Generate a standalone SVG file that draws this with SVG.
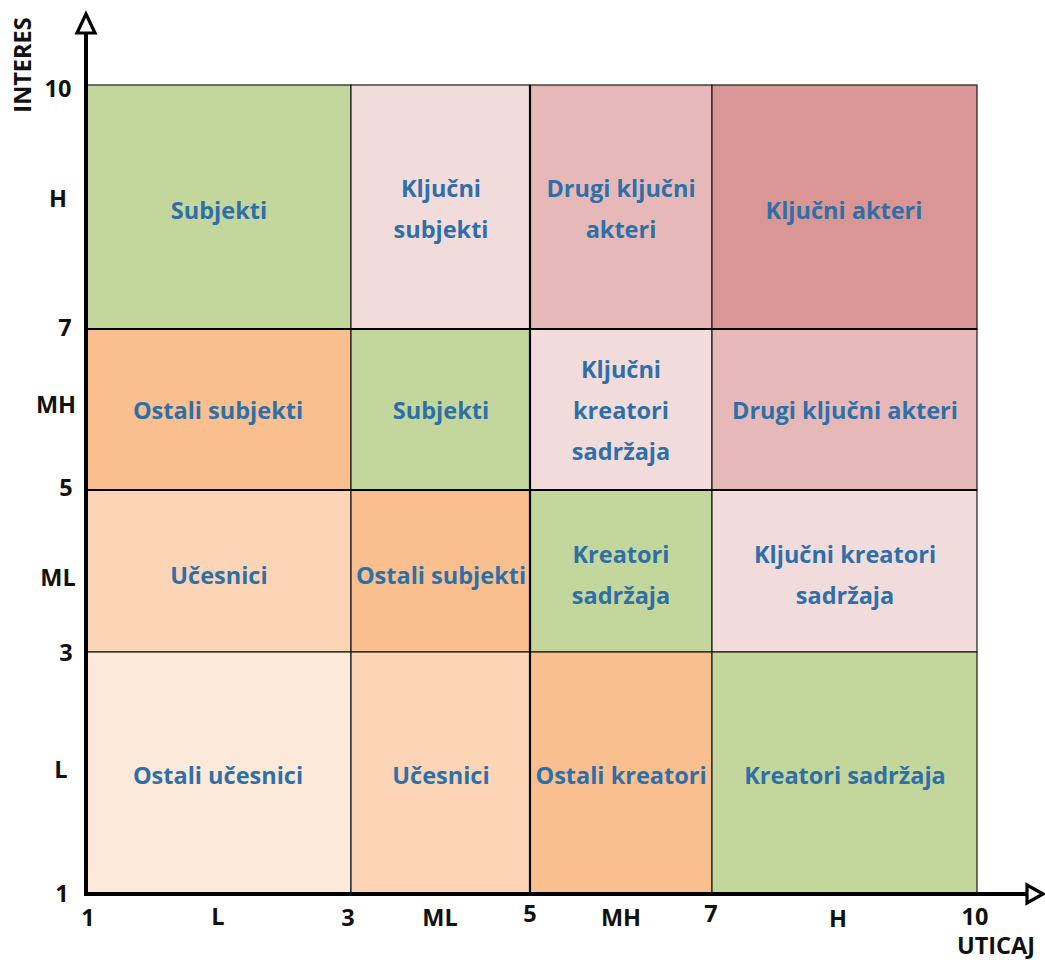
<svg xmlns="http://www.w3.org/2000/svg" width="1045" height="960" viewBox="0 0 1045 960">
<style>
.cell{stroke:#1a1a1a;stroke-width:1.2}
.g{fill:#c3d69b}.p1{fill:#f2dcdb}.p2{fill:#e6b9b8}.p3{fill:#d99694}
.o1{fill:#f9bf8f}.o2{fill:#fbd5b5}.o3{fill:#fde9d9}
.t{font-family:"Open Sans","Noto Sans",sans-serif;font-weight:700;font-size:23.5px;fill:#2e6fa8;text-anchor:middle}
.a{font-family:"Open Sans","Noto Sans",sans-serif;font-weight:700;font-size:23.5px;fill:#111;text-anchor:middle}
.ax{stroke:#000;stroke-width:4;fill:none}
.ah{stroke:#000;stroke-width:3.2;fill:#fff;stroke-linejoin:miter}
</style>
<rect width="1045" height="960" fill="#fff"/>
<g id="row1">
<g id="c11"><rect class="cell g" x="87" y="85" width="264" height="244"/><text class="t" x="219" y="219">Subjekti</text></g>
<g id="c12"><rect class="cell p1" x="351" y="85" width="179" height="244"/><text class="t" x="441" y="197">Ključni</text><text class="t" x="441" y="238">subjekti</text></g>
<g id="c13"><rect class="cell p2" x="530" y="85" width="182" height="244"/><text class="t" x="621" y="197">Drugi ključni</text><text class="t" x="621" y="238">akteri</text></g>
<g id="c14"><rect class="cell p3" x="712" y="85" width="265" height="244"/><text class="t" x="844" y="219">Ključni akteri</text></g>
</g>
<g id="row2">
<g id="c21"><rect class="cell o1" x="87" y="329" width="264" height="161"/><text class="t" x="218" y="419">Ostali subjekti</text></g>
<g id="c22"><rect class="cell g" x="351" y="329" width="179" height="161"/><text class="t" x="441" y="419">Subjekti</text></g>
<g id="c23"><rect class="cell p1" x="530" y="329" width="182" height="161"/><text class="t" x="621" y="378">Ključni</text><text class="t" x="621" y="419">kreatori</text><text class="t" x="621" y="460">sadržaja</text></g>
<g id="c24"><rect class="cell p2" x="712" y="329" width="265" height="161"/><text class="t" x="845" y="419">Drugi ključni akteri</text></g>
</g>
<g id="row3">
<g id="c31"><rect class="cell o2" x="87" y="490" width="264" height="162"/><text class="t" x="219" y="584">Učesnici</text></g>
<g id="c32"><rect class="cell o1" x="351" y="490" width="179" height="162"/><text class="t" x="441" y="584">Ostali subjekti</text></g>
<g id="c33"><rect class="cell g" x="530" y="490" width="182" height="162"/><text class="t" x="621" y="563">Kreatori</text><text class="t" x="621" y="604">sadržaja</text></g>
<g id="c34"><rect class="cell p1" x="712" y="490" width="265" height="162"/><text class="t" x="845" y="563">Ključni kreatori</text><text class="t" x="845" y="604">sadržaja</text></g>
</g>
<g id="row4">
<g id="c41"><rect class="cell o3" x="87" y="652" width="264" height="241"/><text class="t" x="218" y="784">Ostali učesnici</text></g>
<g id="c42"><rect class="cell o2" x="351" y="652" width="179" height="241"/><text class="t" x="441" y="784">Učesnici</text></g>
<g id="c43"><rect class="cell o1" x="530" y="652" width="182" height="241"/><text class="t" x="621" y="784">Ostali kreatori</text></g>
<g id="c44"><rect class="cell g" x="712" y="652" width="265" height="241"/><text class="t" x="845" y="784">Kreatori sadržaja</text></g>
</g>
<g id="gridlines" stroke="#000" stroke-width="2.2">
<line x1="87" y1="329" x2="977" y2="329"/>
<line x1="87" y1="490" x2="977" y2="490"/>
<line x1="530" y1="85" x2="530" y2="893"/>
</g>
<g id="axes">
<path class="ax" d="M86 896 V32"/>
<path class="ax" d="M84 894 H1029"/>
<path class="ah" d="M86 14 L77 33 L95 33 Z"/>
<path class="ah" d="M1043 894 L1027 885 L1027 903 Z"/>
</g>
<g id="ylabels">
<text class="a" x="58" y="97">10</text>
<text class="a" x="58" y="207">H</text>
<text class="a" x="65" y="336">7</text>
<text class="a" x="56" y="413">MH</text>
<text class="a" x="66" y="496">5</text>
<text class="a" x="58" y="586">ML</text>
<text class="a" x="66" y="661">3</text>
<text class="a" x="61" y="778">L</text>
<text class="a" x="62" y="902">1</text>
<text class="a" transform="translate(31 65) rotate(-90)" x="0" y="0" font-size="25">INTERES</text>
</g>
<g id="xlabels">
<text class="a" x="88" y="926">1</text>
<text class="a" x="218" y="925">L</text>
<text class="a" x="348" y="926">3</text>
<text class="a" x="440" y="926">ML</text>
<text class="a" x="530" y="922">5</text>
<text class="a" x="621" y="926">MH</text>
<text class="a" x="711" y="922">7</text>
<text class="a" x="838" y="927">H</text>
<text class="a" x="975" y="925">10</text>
<text class="a" x="996" y="954" font-size="22.5">UTICAJ</text>
</g>
</svg>
